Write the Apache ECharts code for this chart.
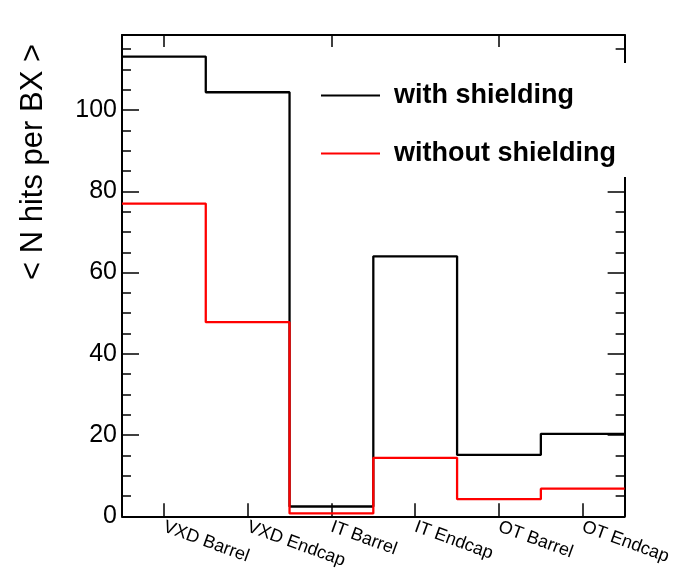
<!DOCTYPE html>
<html><head><meta charset="utf-8">
<script src="https://cdn.jsdelivr.net/npm/echarts@6/dist/echarts.min.js"></script>
<style>html,body{margin:0;padding:0;background:#fff;overflow:hidden}#c{width:674px;height:571px}</style>
</head><body><div id="c"></div>
<script>
// ---- data ----
const categories = ['VXD Barrel', 'VXD Endcap', 'IT Barrel', 'IT Endcap', 'OT Barrel', 'OT Endcap'];
const withShielding = [113.2, 104.4, 2.4, 64.0, 15.1, 20.3];
const withoutShielding = [77.0, 47.8, 0.7, 14.4, 4.2, 6.8];
const seriesNames = ['with shielding', 'without shielding'];
const yTitle = '< N hits per BX >';
const yMin = 0, yMax = 118.5, yInterval = 20;

// histogram bin edges -> step points
function binPoints(vals) {
  const pts = vals.map((v, i) => [i, v]);
  pts.push([vals.length, vals[vals.length - 1]]);
  return pts;
}

const FONT = '"Liberation Sans", Arial, Helvetica, sans-serif';
const chart = echarts.init(document.getElementById('c'), null, { renderer: 'canvas' });

const yBase = {
  type: 'value', min: yMin, max: yMax, interval: yInterval,
  axisLine: { show: true, lineStyle: { color: '#000', width: 2 } },
  axisTick: { show: true, inside: true, length: 17, lineStyle: { color: '#000', width: 1.5 } },
  minorTick: { show: true, splitNumber: 4, length: 9, lineStyle: { color: '#000', width: 1.5 } },
  splitLine: { show: false }, minorSplitLine: { show: false }
};

chart.setOption({
  animation: false,
  backgroundColor: '#fff',
  grid: { left: 122, right: 47, top: 35, bottom: 53, containLabel: false },
  xAxis: [
    {
      type: 'category', data: categories, position: 'bottom', boundaryGap: true,
      axisLine: { show: true, onZero: false, lineStyle: { color: '#000', width: 2 } },
      axisTick: { show: true, inside: true, alignWithLabel: true, length: 13, lineStyle: { color: '#000', width: 1.5 } },
      axisLabel: { show: true, rotate: -20, margin: 10, fontSize: 18, fontFamily: FONT, color: '#000' },
      splitLine: { show: false }
    },
    {
      type: 'category', data: categories, position: 'top', boundaryGap: true,
      axisLine: { show: true, onZero: false, lineStyle: { color: '#000', width: 2 } },
      axisTick: { show: true, inside: true, alignWithLabel: true, length: 12, lineStyle: { color: '#000', width: 1.5 } },
      axisLabel: { show: false },
      splitLine: { show: false }
    },
    {
      type: 'value', min: 0, max: categories.length, show: false, position: 'bottom'
    }
  ],
  yAxis: [
    Object.assign({}, yBase, {
      position: 'left',
      axisLabel: { show: true, margin: 5, fontSize: 25, fontFamily: FONT, color: '#000', showMaxLabel: false }
    }),
    Object.assign({}, yBase, {
      position: 'right',
      axisLabel: { show: false }
    })
  ],
  legend: {
    orient: 'vertical', left: 310, top: 63,
    padding: [19, 18, 10, 10],
    backgroundColor: '#fff',
    itemWidth: 59, itemHeight: 30, itemGap: 31,
    itemStyle: { opacity: 0 },
    lineStyle: { width: 2 },
    textStyle: { fontSize: 27, fontWeight: 'bold', fontFamily: FONT, color: '#000', padding: [8, 0, 0, 9] },
    data: seriesNames
  },
  graphic: [{
    type: 'text', x: 33, y: 162, rotation: Math.PI / 2,
    style: { text: yTitle, fontSize: 31, fontFamily: FONT, fill: '#000', align: 'center', verticalAlign: 'middle' }
  }],
  series: [
    {
      name: seriesNames[0], type: 'line', xAxisIndex: 2, yAxisIndex: 0, step: 'end',
      symbol: 'none', data: binPoints(withShielding),
      lineStyle: { color: '#000', width: 2.3 }, itemStyle: { color: '#000' }
    },
    {
      name: seriesNames[1], type: 'line', xAxisIndex: 2, yAxisIndex: 0, step: 'end',
      symbol: 'none', data: binPoints(withoutShielding),
      lineStyle: { color: '#ff0000', width: 2.3 }, itemStyle: { color: '#ff0000' }
    }
  ]
});
</script></body></html>
